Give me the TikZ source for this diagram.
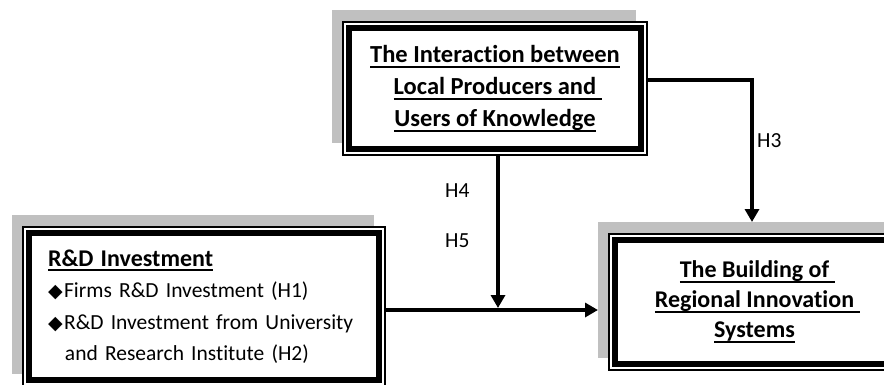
\documentclass[tikz,border=0pt]{standalone}
\usepackage{fontspec}
\setmainfont{Carlito}[Ligatures=NoCommon]
\newfontfamily\symfont{DejaVu Sans}
\usetikzlibrary{arrows.meta,backgrounds}
\newcommand\uln[1]{\setbox0\hbox{#1}\rlap{\rule[-5pt]{\wd0}{1.7pt}}\box0}
\newcommand\ulx{\rlap{\rule[-5pt]{0.25em}{1.7pt}}}
\newcommand\dmd{{\symfont\fontsize{19}{19}\selectfont ◆}\kern1.5pt}
\definecolor{shadowc}{HTML}{C0C0C0}
\tikzset{
  boxnode/.style={draw=black, line width=1.2pt, fill=white, outer sep=0pt, inner sep=0pt},
  innerb/.style={draw=black, line width=5.5pt},
  conn/.style={line width=4pt, -{Triangle[width=14pt,length=13pt]}},
  lbl/.style={font=\fontsize{21.5}{24}\selectfont, inner sep=0pt, anchor=base west},
  ttl/.style={font=\bfseries\fontsize{24.5}{32}\selectfont, align=center}
}
\begin{document}
\begin{tikzpicture}[x=1pt,y=-1pt]
\useasboundingbox (0,0) rectangle (884,384);
\clip (0,0) rectangle (884,384);
% boxes
\node[boxnode, ttl, minimum width=304, minimum height=133] (top) at (495,88.5)
  {\uln{The Interaction between}\\ \uln{Local Producers and}\ulx\\ \uln{Users of Knowledge}};
\node[boxnode, minimum width=362, minimum height=159, text width=312, align=left,
      font=\fontsize{21.5}{31.5}\selectfont] (rd) at (204,306.5)
  {{\bfseries\fontsize{24}{31.5}\selectfont\uln{R\&D Investment}}\\
   \dmd Firms R\&D Investment (H1)\\
   \makebox[312pt][s]{\dmd R\&D Investment from University}\\
   \hspace*{17pt}and Research Institute (H2)};
\node[boxnode, ttl, font=\bfseries\fontsize{24}{30}\selectfont, minimum width=291, minimum height=136] (ris) at (754.5,302)
  {\uln{The Building of}\ulx\\ \uln{Regional Innovation}\ulx\\ \uln{Systems}};
% inner thick borders
\foreach \n in {top,rd,ris}{
  \draw[innerb] ([shift={(6,6)}]\n.north west) rectangle ([shift={(-6,-6)}]\n.south east);
}
% shadows
\begin{scope}[on background layer]
\foreach \n in {top,rd,ris}{
  \fill[shadowc] ([shift={(-11,-12)}]\n.north west) rectangle ([shift={(-11,-12)}]\n.south east);
}
\end{scope}
% connectors
\coordinate (j) at (498,310);
\coordinate (jt) at (498,308);
\coordinate (rissh) at ([shift={(-11,-12)}]ris.north west);
\coordinate (h3c) at (752,80);
\draw[conn] (top.south -| j) -- (jt);
\draw[conn] (rd.east |- j) -- (rissh |- j);
\draw[conn] (top.east |- h3c) -- (h3c) -- (h3c |- rissh);
% labels
\node[lbl] (h4) at (445,197) {H4};
\node[lbl] (h5) at (445,247) {H5};
\node[lbl] (h3) at (757,147) {H3};
\end{tikzpicture}
\end{document}
